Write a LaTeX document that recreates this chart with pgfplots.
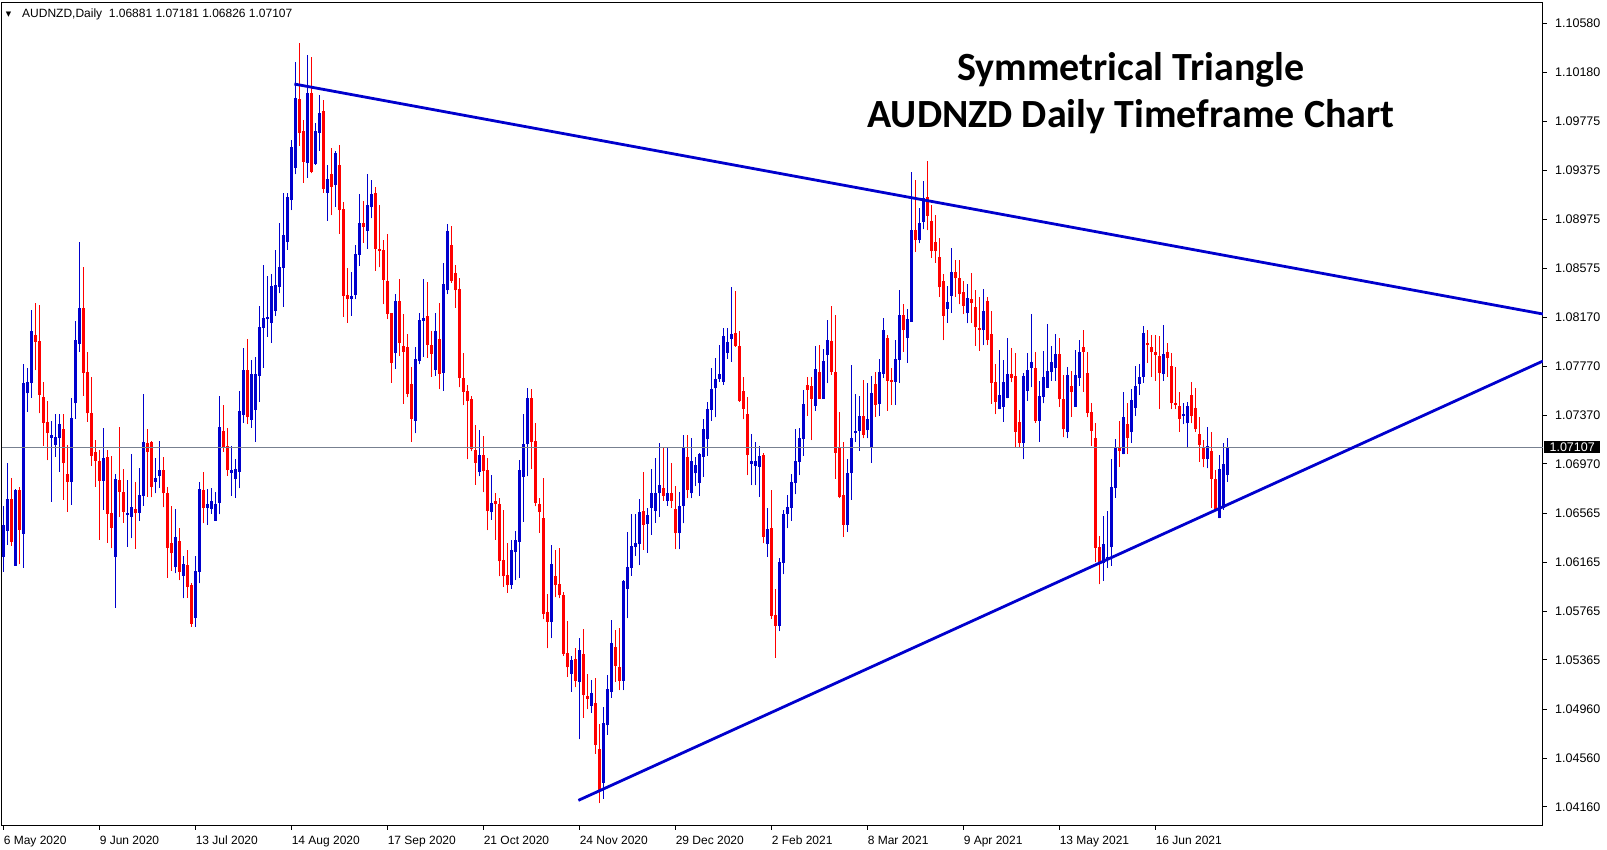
\documentclass[border=0pt]{standalone}
\usepackage{pgfplots}
\pgfplotsset{compat=1.18}
\usepackage{pgfplotstable}
\usepackage{fontspec}
\setmainfont{Liberation Sans}
\newfontfamily\dejavu{DejaVu Sans}
\newfontfamily\carlito{Carlito}
\definecolor{mtblue}{RGB}{0,0,205}
\definecolor{mtred}{RGB}{255,0,0}
\definecolor{pricegray}{RGB}{119,128,144}

\pgfplotstableread{
i o h l c
0 1.06211 1.06626 1.06088 1.06470
1 1.06424 1.06980 1.06306 1.06680
2 1.06680 1.06852 1.06298 1.06333
3 1.06137 1.06762 1.06134 1.06757
4 1.06757 1.06784 1.06148 1.06429
5 1.06396 1.07789 1.06121 1.07630
6 1.07548 1.07756 1.07398 1.07641
7 1.07636 1.08231 1.07513 1.08059
8 1.08023 1.08285 1.07739 1.07971
9 1.07977 1.08272 1.07384 1.07535
10 1.07516 1.07641 1.07120 1.07308
11 1.07314 1.07483 1.07002 1.07226
12 1.07185 1.07322 1.06661 1.07207
13 1.07125 1.07379 1.07030 1.07188
14 1.07185 1.07379 1.06907 1.07297
15 1.07253 1.07379 1.06675 1.06975
16 1.06888 1.07125 1.06579 1.06825
17 1.06825 1.07510 1.06634 1.07344
18 1.07466 1.08141 1.07341 1.07985
19 1.07952 1.08788 1.07890 1.08247
20 1.08247 1.08586 1.07529 1.07718
21 1.07723 1.07887 1.07316 1.07384
22 1.07387 1.07682 1.06956 1.07038
23 1.07071 1.07166 1.06784 1.06997
24 1.06994 1.07084 1.06347 1.06833
25 1.06833 1.07264 1.06593 1.07019
26 1.07027 1.07084 1.06325 1.06563
27 1.06568 1.07035 1.06279 1.06448
28 1.06211 1.06888 1.05793 1.06847
29 1.06839 1.07275 1.06538 1.06743
30 1.06740 1.06931 1.06489 1.06579
31 1.06552 1.06839 1.06292 1.06571
32 1.06538 1.07051 1.06361 1.06620
33 1.06598 1.06822 1.06276 1.06566
34 1.06571 1.06937 1.06505 1.06716
35 1.06710 1.07543 1.06628 1.07150
36 1.07139 1.07253 1.06702 1.07071
37 1.07152 1.07161 1.06697 1.06784
38 1.06825 1.07019 1.06729 1.06858
39 1.06874 1.07158 1.06776 1.06920
40 1.06920 1.07024 1.06615 1.06729
41 1.06735 1.06784 1.06039 1.06284
42 1.06320 1.06626 1.06093 1.06238
43 1.06123 1.06601 1.06074 1.06372
44 1.06339 1.06448 1.06019 1.06088
45 1.06055 1.06216 1.05869 1.06151
46 1.06142 1.06265 1.05875 1.05965
47 1.05976 1.05992 1.05637 1.05659
48 1.05711 1.06216 1.05637 1.06093
49 1.06088 1.06819 1.05992 1.06765
50 1.06757 1.06904 1.06484 1.06612
51 1.06612 1.06765 1.06473 1.06642
52 1.06604 1.06776 1.06560 1.06667
53 1.06505 1.06737 1.06505 1.06642
54 1.06652 1.07526 1.06557 1.07275
55 1.07240 1.07453 1.07068 1.07103
56 1.07117 1.07262 1.06874 1.06920
57 1.06898 1.07117 1.06710 1.06920
58 1.06849 1.07010 1.06693 1.06926
59 1.06906 1.07567 1.06770 1.07404
60 1.07371 1.07922 1.07308 1.07740
61 1.07740 1.07993 1.07297 1.07352
62 1.07330 1.07821 1.07267 1.07707
63 1.07412 1.07848 1.07152 1.07707
64 1.07693 1.08264 1.07480 1.08094
65 1.08086 1.08600 1.07758 1.08163
66 1.08155 1.08510 1.08012 1.08176
67 1.08127 1.08526 1.07963 1.08428
68 1.08225 1.08723 1.08182 1.08436
69 1.08422 1.08946 1.08368 1.08583
70 1.08578 1.09192 1.08258 1.08845
71 1.08791 1.09187 1.08723 1.09159
72 1.09132 1.09624 1.09050 1.09569
73 1.09397 1.10265 1.09343 1.09968
74 1.09960 1.10421 1.09575 1.09683
75 1.09697 1.09788 1.09274 1.09446
76 1.09438 1.10320 1.09315 1.10011
77 1.10011 1.10306 1.09351 1.09362
78 1.09427 1.09765 1.09419 1.09697
79 1.09683 1.09992 1.09536 1.09847
80 1.09861 1.09951 1.09192 1.09225
81 1.09192 1.09419 1.08963 1.09304
82 1.09345 1.09561 1.09009 1.09241
83 1.09255 1.09534 1.09077 1.09520
84 1.09419 1.09583 1.08854 1.09050
85 1.09058 1.09116 1.08176 1.08346
86 1.08354 1.08578 1.08127 1.08324
87 1.08324 1.08545 1.08184 1.08346
88 1.08354 1.08764 1.08321 1.08690
89 1.08682 1.09181 1.08594 1.08946
90 1.08946 1.09124 1.08782 1.08913
91 1.08881 1.09345 1.08731 1.09091
92 1.09072 1.09296 1.08982 1.09181
93 1.09192 1.09241 1.08553 1.08731
94 1.08731 1.09091 1.08581 1.08714
95 1.08723 1.08804 1.08280 1.08477
96 1.08469 1.08854 1.08157 1.08198
97 1.08204 1.08206 1.07635 1.07799
98 1.07881 1.08360 1.07748 1.08305
99 1.08305 1.08485 1.07854 1.07963
100 1.07936 1.08198 1.07461 1.07889
101 1.07925 1.08034 1.07516 1.07543
102 1.07625 1.07762 1.07152 1.07338
103 1.07324 1.07930 1.07221 1.07827
104 1.07813 1.08204 1.07786 1.08149
105 1.08143 1.08485 1.07848 1.08163
106 1.08184 1.08463 1.07840 1.07944
107 1.07944 1.08059 1.07685 1.07871
108 1.07740 1.08203 1.07694 1.08057
109 1.07995 1.08290 1.07582 1.07709
110 1.07716 1.08616 1.07570 1.08445
111 1.08392 1.08932 1.08361 1.08880
112 1.08764 1.08920 1.08454 1.08467
113 1.08538 1.08600 1.08249 1.08392
114 1.08405 1.08492 1.07598 1.07678
115 1.07675 1.07877 1.07452 1.07560
116 1.07567 1.07613 1.07008 1.07489
117 1.07498 1.07529 1.07073 1.07095
118 1.07088 1.07287 1.06800 1.06980
119 1.06902 1.07244 1.06868 1.07045
120 1.07045 1.07197 1.06738 1.06908
121 1.06924 1.07017 1.06427 1.06583
122 1.06576 1.06883 1.06514 1.06654
123 1.06670 1.06729 1.06349 1.06639
124 1.06644 1.06691 1.06049 1.06172
125 1.06179 1.06589 1.05962 1.06054
126 1.06064 1.06325 1.05915 1.05977
127 1.05977 1.06344 1.05946 1.06262
128 1.06247 1.06418 1.06018 1.06344
129 1.06334 1.07001 1.06039 1.06924
130 1.06862 1.07380 1.06498 1.07132
131 1.07132 1.07591 1.06868 1.07508
132 1.07508 1.07585 1.06930 1.07151
133 1.07157 1.07303 1.06623 1.06654
134 1.06644 1.06691 1.06406 1.06576
135 1.06526 1.06852 1.05698 1.05744
136 1.05754 1.05905 1.05459 1.05676
137 1.05676 1.06309 1.05542 1.06148
138 1.06049 1.06266 1.05877 1.05977
139 1.05986 1.06278 1.05868 1.05893
140 1.05900 1.05921 1.05397 1.05412
141 1.05419 1.05682 1.05226 1.05303
142 1.05248 1.05393 1.05102 1.05362
143 1.05372 1.05465 1.05139 1.05192
144 1.05185 1.05542 1.04713 1.05449
145 1.05409 1.05620 1.04890 1.05077
146 1.05071 1.05248 1.04962 1.05046
147 1.04990 1.05201 1.04931 1.05093
148 1.05008 1.05216 1.04595 1.04668
149 1.04636 1.04838 1.04192 1.04301
150 1.04357 1.04977 1.04229 1.04844
151 1.04829 1.05238 1.04751 1.05124
152 1.05102 1.05692 1.05055 1.05502
153 1.05474 1.05610 1.05185 1.05316
154 1.05303 1.05626 1.05117 1.05192
155 1.05192 1.06018 1.05117 1.06009
156 1.05946 1.06412 1.05704 1.06123
157 1.06117 1.06557 1.06054 1.06297
158 1.06288 1.06557 1.06216 1.06325
159 1.06312 1.06685 1.06142 1.06576
160 1.06584 1.06906 1.06265 1.06470
161 1.06478 1.06607 1.06243 1.06552
162 1.06611 1.06929 1.06388 1.06729
163 1.06587 1.07021 1.06489 1.06729
164 1.06729 1.07139 1.06538 1.06797
165 1.06770 1.07111 1.06669 1.06710
166 1.06669 1.07103 1.06628 1.06729
167 1.06729 1.06980 1.06611 1.06669
168 1.06601 1.06789 1.06271 1.06402
169 1.06402 1.06743 1.06271 1.06625
170 1.06628 1.07207 1.06484 1.07103
171 1.07029 1.07207 1.06688 1.06756
172 1.06729 1.07180 1.06688 1.06994
173 1.06893 1.07029 1.06789 1.06961
174 1.06816 1.07062 1.06710 1.07049
175 1.07029 1.07336 1.06865 1.07256
176 1.07172 1.07480 1.07037 1.07420
177 1.07412 1.07758 1.07324 1.07584
178 1.07590 1.07835 1.07352 1.07666
179 1.07666 1.07944 1.07644 1.07707
180 1.07644 1.08086 1.07617 1.08018
181 1.07881 1.08086 1.07830 1.07971
182 1.07993 1.08422 1.07808 1.08034
183 1.08040 1.08387 1.07930 1.07939
184 1.07936 1.08059 1.07480 1.07488
185 1.07567 1.07685 1.07336 1.07420
186 1.07379 1.07521 1.06879 1.07043
187 1.06969 1.07215 1.06797 1.06994
188 1.06953 1.07147 1.06797 1.06994
189 1.06947 1.07119 1.06702 1.07035
190 1.07043 1.07062 1.06320 1.06374
191 1.06314 1.06607 1.06210 1.06437
192 1.06443 1.06756 1.05700 1.05727
193 1.05732 1.05945 1.05383 1.05645
194 1.05645 1.06202 1.05601 1.06164
195 1.06161 1.06593 1.06066 1.06560
196 1.06560 1.06716 1.06443 1.06615
197 1.06611 1.06885 1.06505 1.06824
198 1.06816 1.07256 1.06721 1.06994
199 1.06988 1.07267 1.06879 1.07185
200 1.07172 1.07576 1.07035 1.07461
201 1.07617 1.07685 1.07363 1.07576
202 1.07608 1.07685 1.07166 1.07502
203 1.07445 1.07936 1.07406 1.07748
204 1.07721 1.07944 1.07502 1.07502
205 1.07502 1.07909 1.07502 1.07813
206 1.07862 1.08149 1.07631 1.07985
207 1.07977 1.08264 1.07699 1.07726
208 1.07726 1.08190 1.06847 1.07062
209 1.07103 1.07393 1.06688 1.06702
210 1.06716 1.07147 1.06374 1.06470
211 1.06470 1.07010 1.06415 1.06898
212 1.06898 1.07780 1.06675 1.07180
213 1.07226 1.07543 1.07152 1.07240
214 1.07240 1.07527 1.07078 1.07363
215 1.07363 1.07658 1.07180 1.07207
216 1.07248 1.07635 1.07180 1.07336
217 1.07111 1.07690 1.06980 1.07554
218 1.07625 1.07726 1.07357 1.07453
219 1.07461 1.07830 1.07363 1.07726
220 1.07707 1.08168 1.07676 1.08067
221 1.08004 1.08026 1.07406 1.07652
222 1.07658 1.07758 1.07453 1.07644
223 1.07644 1.07985 1.07453 1.07830
224 1.07821 1.08395 1.07635 1.08190
225 1.08190 1.08280 1.07889 1.08067
226 1.08004 1.08239 1.07799 1.08155
227 1.08135 1.09359 1.08135 1.08886
228 1.08886 1.09296 1.08709 1.08804
229 1.08804 1.09064 1.08777 1.08941
230 1.08954 1.09288 1.08892 1.09151
231 1.09154 1.09452 1.08886 1.09004
232 1.08963 1.09091 1.08659 1.08717
233 1.08791 1.09009 1.08619 1.08717
234 1.08668 1.08823 1.08340 1.08417
235 1.08469 1.08526 1.07985 1.08184
236 1.08239 1.08430 1.08127 1.08299
237 1.08348 1.08741 1.08209 1.08545
238 1.08545 1.08641 1.08340 1.08491
239 1.08496 1.08641 1.08278 1.08362
240 1.08376 1.08469 1.08198 1.08266
241 1.08204 1.08444 1.08122 1.08332
242 1.08319 1.08537 1.08127 1.08291
243 1.08258 1.08395 1.07939 1.08089
244 1.08086 1.08340 1.07898 1.08067
245 1.08067 1.08403 1.07944 1.08223
246 1.08307 1.08340 1.07944 1.07985
247 1.08034 1.08223 1.07461 1.07635
248 1.07644 1.07789 1.07379 1.07480
249 1.07418 1.07903 1.07418 1.07535
250 1.07439 1.07821 1.07316 1.07644
251 1.07508 1.08004 1.07508 1.07707
252 1.07707 1.07922 1.07639 1.07676
253 1.07690 1.07876 1.07111 1.07234
254 1.07316 1.07412 1.07111 1.07144
255 1.07144 1.07717 1.07008 1.07690
256 1.07570 1.07881 1.07488 1.07740
257 1.07758 1.08198 1.07598 1.07808
258 1.07758 1.07889 1.07308 1.07324
259 1.07324 1.07652 1.07152 1.07527
260 1.07521 1.07895 1.07467 1.07680
261 1.07595 1.08116 1.07595 1.07734
262 1.07726 1.07936 1.07652 1.07808
263 1.07758 1.08034 1.07652 1.07871
264 1.07871 1.07999 1.07439 1.07499
265 1.07502 1.07699 1.07187 1.07254
266 1.07234 1.07767 1.07180 1.07699
267 1.07611 1.07731 1.07357 1.07562
268 1.07439 1.07903 1.07439 1.07699
269 1.07672 1.07985 1.07611 1.07889
270 1.07925 1.08067 1.07562 1.07889
271 1.07712 1.07889 1.07352 1.07390
272 1.07393 1.07467 1.07117 1.07242
273 1.07180 1.07308 1.06164 1.06284
274 1.06287 1.06380 1.05984 1.06161
275 1.06156 1.06543 1.06013 1.06312
276 1.06189 1.06584 1.06120 1.06210
277 1.06287 1.07010 1.06134 1.06779
278 1.06775 1.07172 1.06693 1.07106
279 1.07103 1.07322 1.06947 1.07078
280 1.07049 1.07557 1.07049 1.07352
281 1.07297 1.07472 1.07051 1.07185
282 1.07234 1.07581 1.07144 1.07494
283 1.07431 1.07772 1.07363 1.07608
284 1.07625 1.07786 1.07535 1.07685
285 1.07685 1.08100 1.07635 1.08045
286 1.07963 1.08067 1.07799 1.07944
287 1.07930 1.08026 1.07685 1.07885
288 1.07889 1.08026 1.07652 1.07862
289 1.07854 1.08018 1.07418 1.07717
290 1.07704 1.08108 1.07652 1.07871
291 1.07885 1.07963 1.07685 1.07835
292 1.07772 1.07881 1.07418 1.07467
293 1.07467 1.07762 1.07418 1.07453
294 1.07445 1.07562 1.07234 1.07341
295 1.07365 1.07467 1.07297 1.07379
296 1.07303 1.07480 1.07098 1.07445
297 1.07535 1.07644 1.07303 1.07365
298 1.07431 1.07590 1.07234 1.07254
299 1.07215 1.07352 1.06988 1.07125
300 1.07106 1.07166 1.06942 1.07008
301 1.07010 1.07270 1.06934 1.07117
302 1.07076 1.07234 1.06611 1.06847
303 1.06847 1.06920 1.06593 1.06601
304 1.06525 1.07043 1.06525 1.06929
305 1.06611 1.07144 1.06593 1.06969
306 1.06881 1.07181 1.06826 1.07107
}\candles

\pgfplotsset{
  candle/.style n args={2}{only marks, mark=none, mark size=0pt,
    mark options={draw=none, fill=none}, forget plot,
    error bars/y dir=plus, error bars/y explicit, error bars/error mark=none,
    error bars/error bar style={draw=#1, line width=#2}},
}

\begin{document}
\begin{tikzpicture}
\path[use as bounding box] (0,0) rectangle (1607pt,850pt);
\begin{axis}[
  at={(2pt,24pt)}, anchor=south west,
  scale only axis, width=1541pt, height=823pt,
  xmin=-0.4, xmax=384.85, ymin=1.04004, ymax=1.10746,
  axis line style={black, line width=1pt},
  xtick={0,24,48,72,96,120,144,168,192,216,240,264,288},
  xticklabels={6 May 2020,9 Jun 2020,13 Jul 2020,14 Aug 2020,17 Sep 2020,21 Oct 2020,24 Nov 2020,29 Dec 2020,2 Feb 2021,8 Mar 2021,9 Apr 2021,13 May 2021,16 Jun 2021},
  ytick={1.04160,1.04560,1.04960,1.05365,1.05765,1.06165,1.06565,1.06970,1.07370,1.07770,1.08170,1.08575,1.08975,1.09375,1.09775,1.10180,1.10580},
  yticklabels={1.04160,1.04560,1.04960,1.05365,1.05765,1.06165,1.06565,1.06970,1.07370,1.07770,1.08170,1.08575,1.08975,1.09375,1.09775,1.10180,1.10580},
  xtick pos=left, ytick pos=right, yticklabel pos=right,
  tick align=outside, major tick length=4pt,
  tick style={black, line width=1pt},
  xticklabel style={anchor=north west, inner sep=0pt, yshift=-6pt, font=\fontsize{12}{13}\selectfont},
  yticklabel style={anchor=west, inner sep=0pt, xshift=8pt, font=\fontsize{12.5}{13}\selectfont},
]
% up candles: wicks and bodies
\addplot[candle={mtblue}{1pt},
  x filter/.expression={\thisrow{c}>=\thisrow{o} ? x : nan}]
  table[x=i, y=l, y error expr=\thisrow{h}-\thisrow{l}] {\candles};
\addplot[candle={mtblue}{3pt},
  x filter/.expression={\thisrow{c}>=\thisrow{o} ? x : nan}]
  table[x=i, y=o, y error expr=\thisrow{c}-\thisrow{o}] {\candles};
% down candles
\addplot[candle={mtred}{1pt},
  x filter/.expression={\thisrow{c}<\thisrow{o} ? x : nan}]
  table[x=i, y=l, y error expr=\thisrow{h}-\thisrow{l}] {\candles};
\addplot[candle={mtred}{3pt},
  x filter/.expression={\thisrow{c}<\thisrow{o} ? x : nan}]
  table[x=i, y=c, y error expr=\thisrow{o}-\thisrow{c}] {\candles};
% current price line
\addplot[pricegray, line width=1pt, forget plot] coordinates {(-0.4,1.07107) (384.85,1.07107)};
% triangle lines
\addplot[mtblue, line width=2.8pt, forget plot] coordinates {(72.7,1.10082) (384.85,1.08198)};
\addplot[mtblue, line width=2.8pt, forget plot] coordinates {(143.7,1.04214) (384.85,1.07813)};
\coordinate (cp) at (axis cs:384.85,1.07107);
\end{axis}
\node[fill=black, text=white, anchor=west, inner sep=0pt, minimum width=56pt, minimum height=12pt, font=\fontsize{12.5}{13}\selectfont] at ([xshift=1pt]cp) {1.07107};
\node[anchor=center, inner sep=0pt, font=\dejavu\fontsize{7}{8}\selectfont] at (8.5pt,835.7pt) {▼};
\node[anchor=base west, inner sep=0pt, font=\fontsize{12}{13}\selectfont] at (22pt,832pt) {AUDNZD,Daily\ \ 1.06881 1.07181 1.06826 1.07107};
\node[anchor=base, inner sep=0pt, font=\carlito\bfseries\fontsize{40}{42}\selectfont] at (1131pt,769pt) {Symmetrical Triangle};
\node[anchor=base, inner sep=0pt, font=\carlito\bfseries\fontsize{40}{42}\selectfont] at (1131pt,722pt) {AUDNZD Daily Timeframe Chart};
\end{tikzpicture}
\end{document}
